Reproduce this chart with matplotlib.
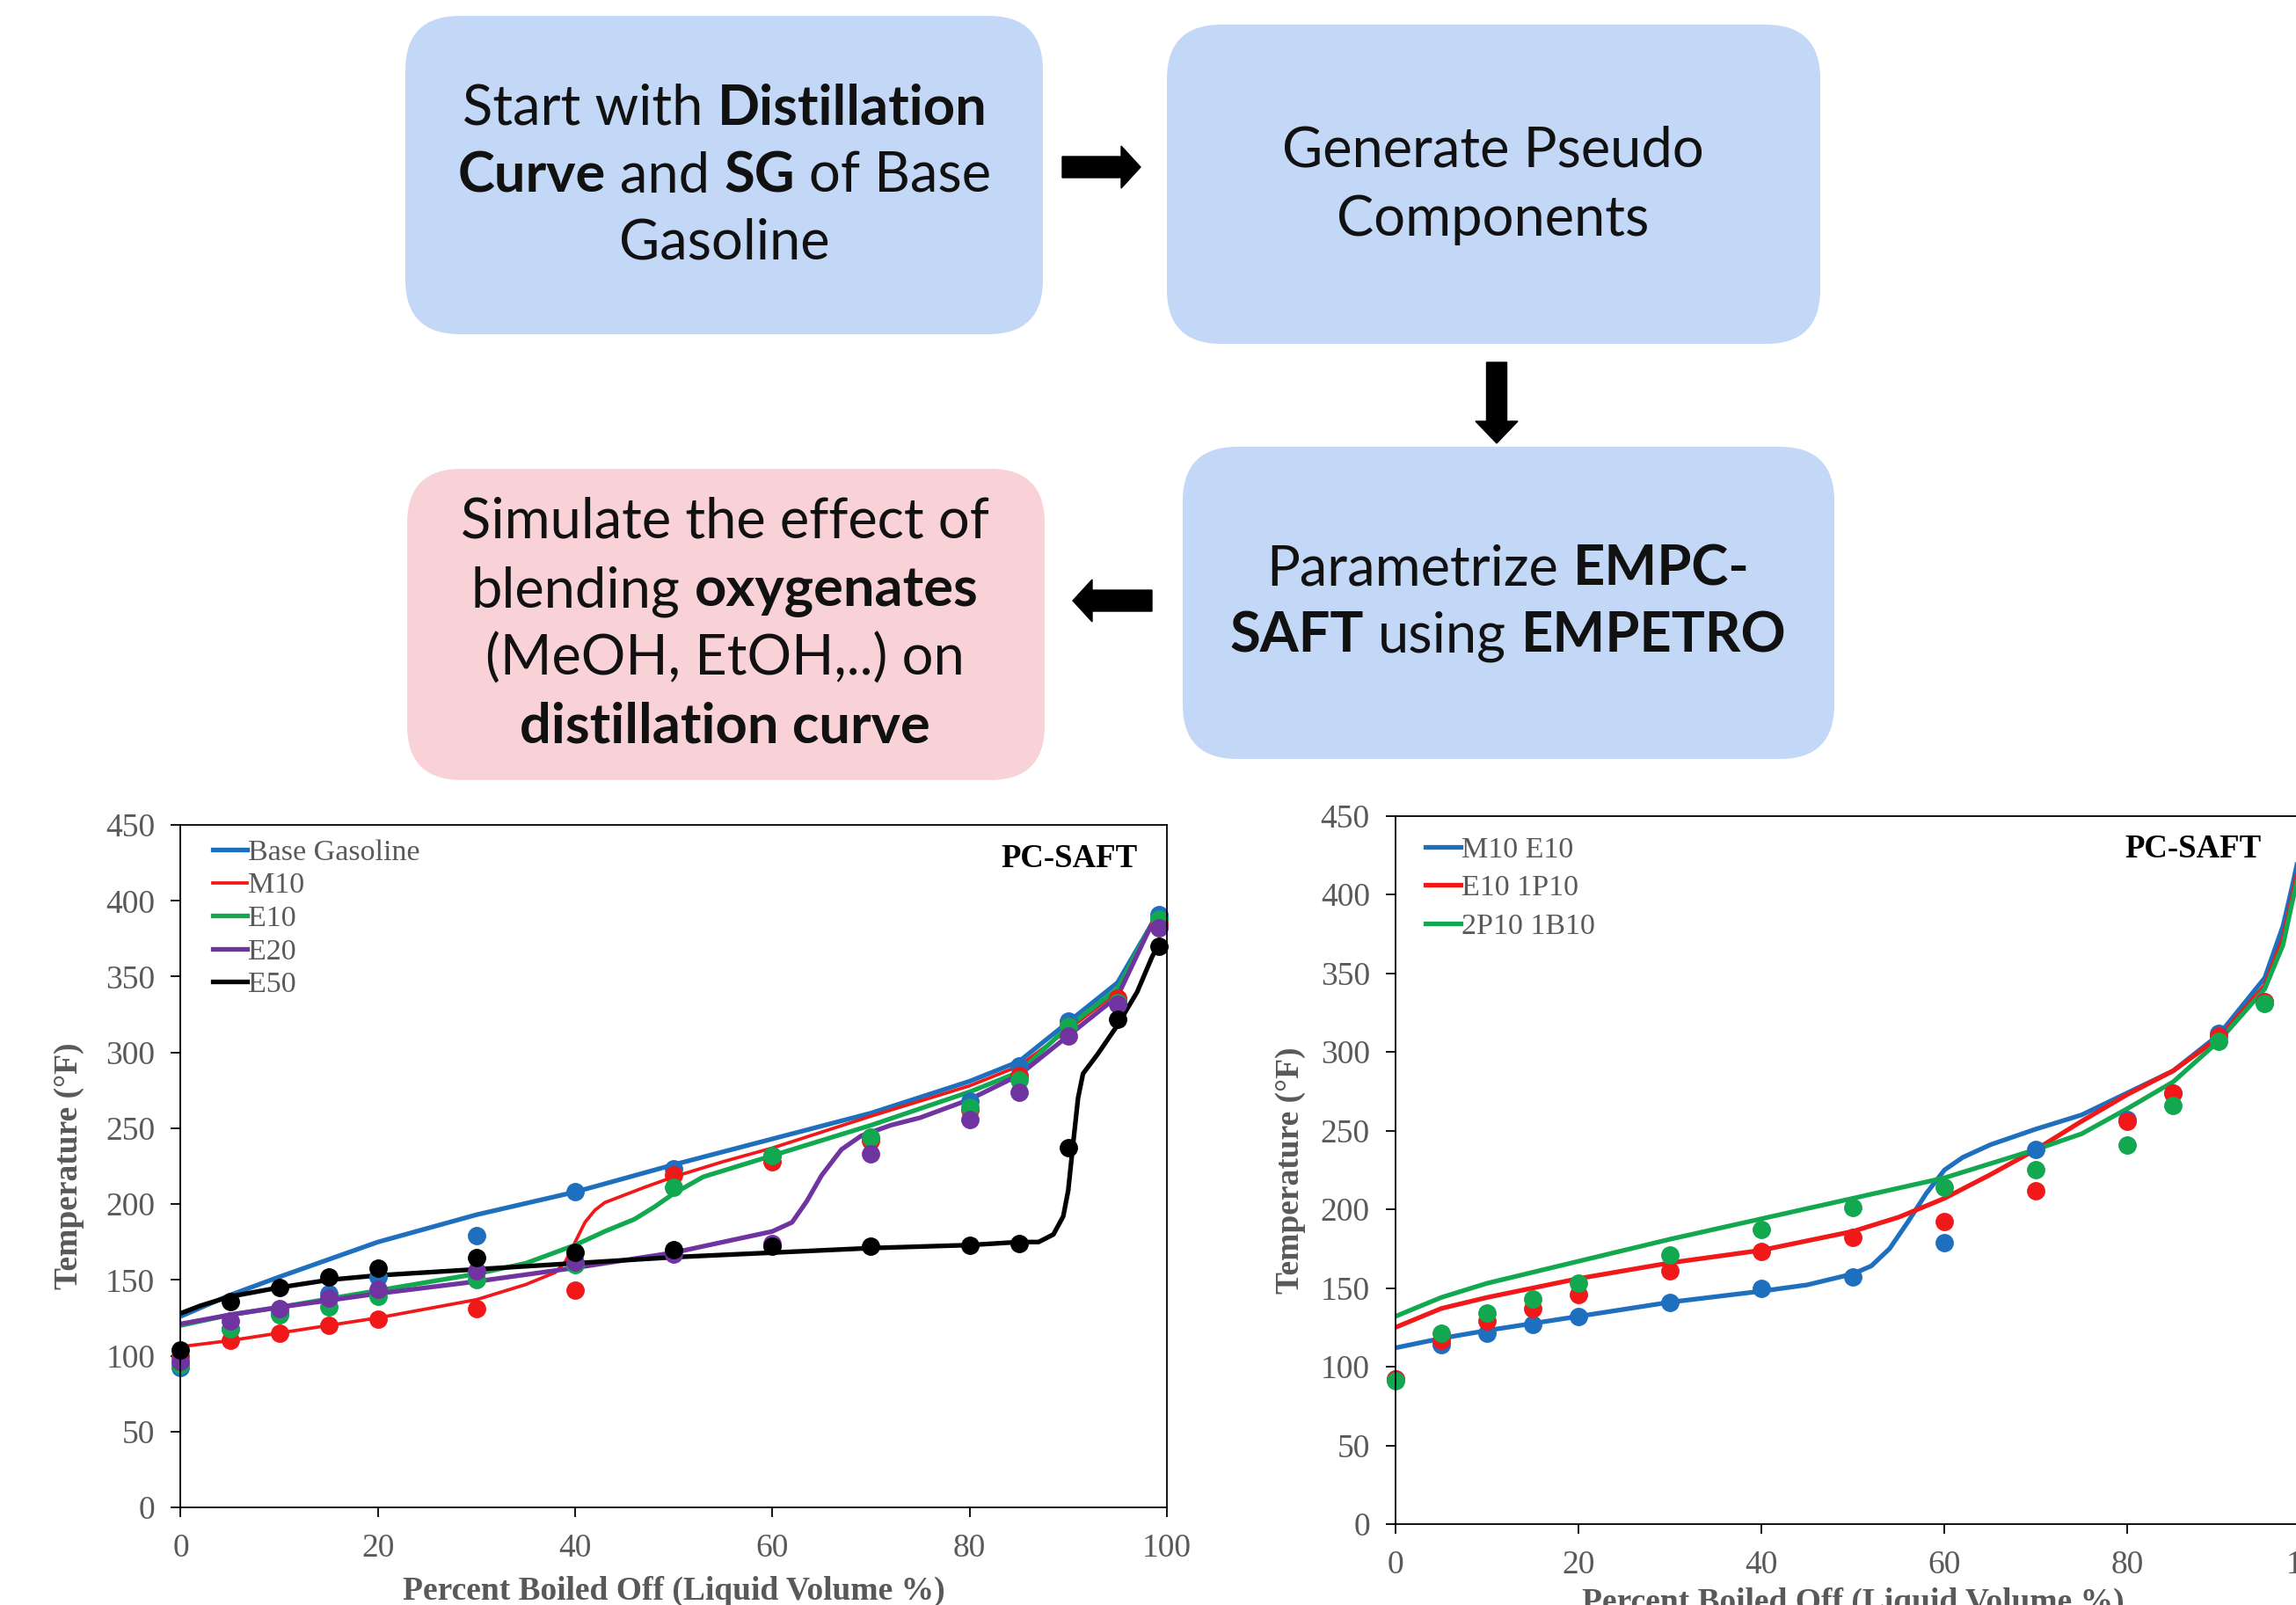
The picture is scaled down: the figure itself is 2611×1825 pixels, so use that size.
import matplotlib.pyplot as plt
from matplotlib.patches import FancyBboxPatch, FancyArrow

# ---- left chart: measured points (Percent boiled off vs Temperature F)
pts_x = [0, 5, 10, 15, 20, 30, 40, 50, 60, 70, 80, 85, 90, 95, 99.2]
base_pts = [92, 118, 128, 141, 152, 179, 208, 223, 232, 243, 268, 291, 321, 335, 391]
m10_pts = [100, 110, 115, 120, 124, 131, 143, 219, 228, 242, 262, 285, 317, 336, 385]
e10_pts = [94, 118, 127, 132, 139, 150, 160, 211, 232, 244, 264, 282, 317, 333, 388]
e20_pts = [96, 123, 131, 138, 144, 156, 162, 167, 174, 233, 256, 274, 311, 332, 382]
e50_pts = [104, 136, 145, 152, 158, 165, 168, 170, 172, 172, 173, 174, 237, 322, 370]

# ---- left chart: PC-SAFT curves
base_x = [0, 5, 10, 20, 30, 40, 50, 60, 70, 80, 85, 90, 95, 98.5]
base_y = [126, 140, 152, 175, 193, 208, 226, 243, 260, 281, 294, 320, 346, 385]
m10_x = [0, 5, 10, 20, 30, 35, 38, 39, 40, 41, 42, 43, 45, 47, 50, 55, 60, 70, 80, 85, 90, 95, 98.5]
m10_y = [106, 110, 115, 125, 137, 147, 155, 162, 175, 188, 196, 201, 206, 211, 218, 228, 237, 258, 278, 291, 315, 340, 385]
e10_x = [0, 5, 10, 20, 30, 35, 40, 43, 46, 48, 50, 53, 56, 60, 70, 80, 85, 90, 95, 98.5]
e10_y = [120, 127, 132, 143, 154, 161, 173, 182, 190, 198, 207, 218, 224, 232, 252, 274, 287, 317, 342, 385]
e20_x = [0, 5, 10, 20, 30, 40, 45, 50, 55, 60, 62, 63.5, 65, 67, 69, 72, 75, 80, 85, 90, 95, 98.5]
e20_y = [121, 127, 132, 141, 149, 158, 163, 168, 175, 182, 188, 202, 219, 236, 245, 252, 257, 269, 285, 311, 337, 385]
e50_x = [0, 2, 5, 10, 15, 20, 30, 40, 50, 60, 70, 80, 85, 87, 88.5, 89.5, 90, 90.5, 91, 91.5, 93, 95, 97, 98.5, 99.3]
e50_y = [128, 133, 139, 145, 150, 153, 157, 161, 165, 168, 171, 173, 175, 175, 180, 192, 209, 240, 270, 286, 299, 318, 340, 363, 373]

# ---- right chart: measured points
r_pts_x = [0, 5, 10, 15, 20, 30, 40, 50, 60, 70, 80, 85, 90, 95]
me_pts = [92, 114, 121, 127, 132, 141, 150, 157, 179, 238, 257, 274, 312, 332]
ep_pts = [92, 117, 129, 137, 146, 161, 173, 182, 192, 212, 256, 274, 310, 332]
pb_pts = [91, 121, 134, 143, 153, 171, 187, 201, 214, 225, 241, 266, 307, 331]

# ---- right chart: PC-SAFT curves
me_x = [0, 5, 10, 20, 30, 40, 45, 50, 52, 54, 56, 58, 60, 62, 65, 70, 75, 80, 85, 90, 95, 97, 98, 99, 100]
me_y = [112, 118, 123, 132, 141, 148, 152, 159, 164, 175, 192, 210, 225, 233, 241, 251, 260, 274, 288, 311, 347, 380, 405, 432, 460]
ep_x = [0, 5, 10, 20, 30, 40, 50, 55, 60, 65, 70, 75, 80, 85, 90, 95, 97, 98, 99, 100]
ep_y = [125, 137, 144, 156, 166, 174, 186, 195, 207, 222, 238, 256, 273, 288, 309, 342, 372, 398, 425, 450]
pb_x = [0, 5, 10, 20, 30, 40, 50, 60, 70, 75, 80, 85, 90, 95, 97, 98, 99, 100]
pb_y = [132, 144, 153, 167, 181, 194, 207, 220, 238, 248, 264, 281, 307, 340, 368, 395, 420, 448]

BLUE = '#1f6fbf'
RED = '#f01818'
GREEN = '#12a84f'
PURPLE = '#7034a0'
BLACK = '#000000'
GREY = '#595959'

fig = plt.figure(figsize=(26.11, 18.25), dpi=100)

# background axes in pixel units for the flowchart
bg = fig.add_axes([0, 0, 1, 1])
bg.set_xlim(0, 2611)
bg.set_ylim(1825, 0)
bg.axis('off')

boxes = [
    (461, 18, 725, 362, '#c3d7f6'),
    (1327, 28, 743, 363, '#c3d7f6'),
    (1345, 508, 741, 355, '#c3d7f6'),
    (463, 533, 725, 354, '#f9d2d8'),
]
for x, y, w, h, c in boxes:
    bg.add_patch(FancyBboxPatch((x, y), w, h, boxstyle='round,pad=0,rounding_size=62',
                                facecolor=c, edgecolor='none'))

bg.add_patch(FancyArrow(1208, 190, 89, 0, width=24, head_width=48, head_length=22,
                        length_includes_head=True, color='black'))
bg.add_patch(FancyArrow(1702, 412, 0, 92, width=23, head_width=48, head_length=25,
                        length_includes_head=True, color='black'))
bg.add_patch(FancyArrow(1310, 683, -90, 0, width=24, head_width=48, head_length=22,
                        length_includes_head=True, color='black'))

FS = 45.5
FLOW_FONT = 'Lato'
renderer = fig.canvas.get_renderer()


def text_width(s, weight):
    t = bg.text(0, 0, s, fontsize=FS, family=FLOW_FONT, fontweight=weight)
    w = t.get_window_extent(renderer).width
    t.remove()
    return w


space = text_width('a a', 'normal') - text_width('aa', 'normal')


def rich_line(cx, cy, parts):
    texts, widths = [], []
    for s, bold in parts:
        wgt = 'bold' if bold else 'normal'
        t = bg.text(0, cy, s, fontsize=FS, family=FLOW_FONT, fontweight=wgt,
                    va='center', ha='left', color='#111111')
        texts.append(t)
        widths.append(t.get_window_extent(renderer).width)
    total = sum(widths) + space * (len(parts) - 1)
    x = cx - total / 2
    for t, w in zip(texts, widths):
        t.set_x(x)
        x += w + space


rich_line(824, 123, [('Start with', False), ('Distillation', True)])
rich_line(824, 200, [('Curve', True), ('and', False), ('SG', True), ('of Base', False)])
rich_line(824, 276, [('Gasoline', False)])

rich_line(1698, 171, [('Generate Pseudo', False)])
rich_line(1698, 250, [('Components', False)])

rich_line(1715, 648, [('Parametrize', False), ('EMPC-', True)])
rich_line(1715, 724, [('SAFT', True), ('using', False), ('EMPETRO', True)])

rich_line(824, 594, [('Simulate the effect of', False)])
rich_line(824, 673, [('blending', False), ('oxygenates', True)])
rich_line(824, 749, [('(MeOH, EtOH,..) on', False)])
rich_line(824, 826, [('distillation curve', True)])


# ---- charts
SERIF = 'Liberation Serif'


def style_axes(ax, xlab_y, ylab_x):
    ax.set_xlim(0, 100)
    ax.set_ylim(0, 450)
    ax.set_xticks(range(0, 101, 20))
    ax.set_yticks(range(0, 451, 50))
    ax.tick_params(axis='y', direction='out', length=8, width=1.3, pad=13,
                   labelsize=27, labelcolor=GREY)
    ax.tick_params(axis='x', direction='out', length=8, width=1.3, pad=13,
                   labelsize=27, labelcolor=GREY)
    for lab in ax.get_xticklabels() + ax.get_yticklabels():
        lab.set_family(SERIF)
    for sp in ax.spines.values():
        sp.set_linewidth(1.3)
    ax.set_xlabel('Percent Boiled Off (Liquid Volume %)', family=SERIF, fontsize=27,
                  fontweight='bold', color=GREY)
    ax.set_ylabel('Temperature (°F)', family=SERIF, fontsize=27,
                  fontweight='bold', color=GREY)
    ax.xaxis.set_label_coords(0.5, xlab_y)
    ax.yaxis.set_label_coords(ylab_x, 0.5)


LW = 3.8
ax1 = fig.add_axes([0.0787, 0.0608, 0.4295, 0.4252])
ax1.plot(base_x, base_y, color=BLUE, lw=LW, label='Base Gasoline')
ax1.plot(m10_x, m10_y, color=RED, lw=2.7, label='M10')
ax1.plot(e10_x, e10_y, color=GREEN, lw=LW, label='E10')
ax1.plot(e20_x, e20_y, color=PURPLE, lw=LW, label='E20')
ax1.plot(e50_x, e50_y, color=BLACK, lw=LW, label='E50')
ax1.plot(pts_x, base_pts, 'o', color=BLUE, ms=14, clip_on=False)
ax1.plot(pts_x, m10_pts, 'o', color=RED, ms=14, clip_on=False)
ax1.plot(pts_x, e10_pts, 'o', color=GREEN, ms=14, clip_on=False)
ax1.plot(pts_x, e20_pts, 'o', color=PURPLE, ms=14, clip_on=False)
ax1.plot(pts_x, e50_pts, 'o', color=BLACK, ms=14, clip_on=False)
style_axes(ax1, -0.100, -0.098)
leg1 = ax1.legend(loc='upper left', bbox_to_anchor=(0.02, 0.997), frameon=False,
                  handlelength=1.17, handletextpad=0.02, labelspacing=0.2,
                  borderaxespad=0, prop={'family': SERIF, 'size': 24.5})
for t in leg1.get_texts():
    t.set_color(GREY)
ax1.text(0.970, 0.951, 'PC-SAFT', transform=ax1.transAxes, ha='right', va='center',
         family=SERIF, fontsize=26.5, fontweight='bold')

ax2 = fig.add_axes([0.6078, 0.0504, 0.3985, 0.4413])
ax2.plot(me_x, me_y, color=BLUE, lw=LW, label='M10 E10')
ax2.plot(ep_x, ep_y, color=RED, lw=LW, label='E10 1P10')
ax2.plot(pb_x, pb_y, color=GREEN, lw=LW, label='2P10 1B10')
ax2.plot(r_pts_x, me_pts, 'o', color=BLUE, ms=14, clip_on=False)
ax2.plot(r_pts_x, ep_pts, 'o', color=RED, ms=14, clip_on=False)
ax2.plot(r_pts_x, pb_pts, 'o', color=GREEN, ms=14, clip_on=False)
style_axes(ax2, -0.089, -0.098)
leg2 = ax2.legend(loc='upper left', bbox_to_anchor=(0.02, 0.988), frameon=False,
                  handlelength=1.17, handletextpad=0.02, labelspacing=0.37,
                  borderaxespad=0, prop={'family': SERIF, 'size': 24.5})
for t in leg2.get_texts():
    t.set_color(GREY)
ax2.text(0.946, 0.953, 'PC-SAFT', transform=ax2.transAxes, ha='right', va='center',
         family=SERIF, fontsize=26.5, fontweight='bold')

fig.savefig('out.png', dpi=100)
